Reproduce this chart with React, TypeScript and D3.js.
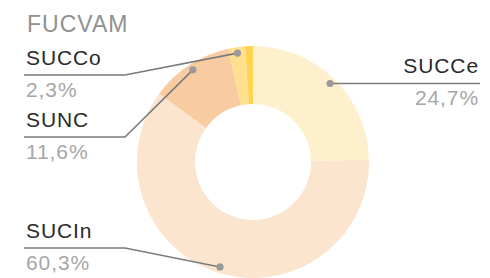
import { useEffect, useRef } from "react";
import * as d3 from "d3";

// slices in clockwise order starting at 12 o'clock
const categories = ["SUCCe", "SUCIn", "SUNC", "SUCCo", "Otros"];
const values = [24.7, 60.3, 11.6, 2.3, 1.1];
const colors = ["#fff0cd", "#fbe5cf", "#f8cba1", "#ffe08e", "#ffd451"];
const showLabel = [true, true, true, true, false];
const title = "FUCVAM";

// label lane (y of the underline) per slice; right side follows the dot
const labelLineY: Record<string, number> = { SUCCo: 75, SUNC: 137, SUCIn: 248 };

export default function App() {
  const svgRef = useRef<SVGSVGElement | null>(null);

  useEffect(() => {
    const W = 490, H = 278;
    const cx = 253, cy = 162;
    const R = 116, r = 58, dotR = 110;
    const font = "'Liberation Sans', Arial, sans-serif";
    const fmt = (v: number) => d3.format(".1f")(v).replace(".", ",") + "%";

    const svg = d3.select(svgRef.current).attr("width", W).attr("height", H);
    svg.selectAll("*").remove();

    svg.append("text")
      .attr("x", 27).attr("y", 32)
      .attr("font-family", font).attr("font-size", 23).attr("letter-spacing", 1)
      .attr("fill", "#909090")
      .text(title);

    const data = categories.map((c, i) => ({ name: c, value: values[i], color: colors[i], label: showLabel[i] }));
    const pie = d3.pie<any>().value(d => d.value).sort(null);
    const arcs = pie(data);
    const arc = d3.arc<any>().innerRadius(r).outerRadius(R);

    const g = svg.append("g").attr("transform", `translate(${cx},${cy})`);
    g.selectAll("path").data(arcs).enter().append("path")
      .attr("d", arc).attr("fill", d => d.data.color);

    const labels = svg.append("g");
    arcs.forEach(a => {
      if (!a.data.label) return;
      const mid = (a.startAngle + a.endAngle) / 2;
      const px = cx + dotR * Math.sin(mid);
      const py = cy - dotR * Math.cos(mid);
      const right = mid < Math.PI;
      let pts: [number, number][];
      let ly: number;
      if (right) {
        ly = py;
        pts = [[px, py], [480, py]];
      } else {
        ly = labelLineY[a.data.name];
        pts = [[px, py], [125, ly], [24, ly]];
      }
      labels.append("path")
        .attr("d", d3.line()(pts))
        .attr("fill", "none").attr("stroke", "#7b7b7b").attr("stroke-width", 1.6);
      labels.append("circle").attr("cx", px).attr("cy", py).attr("r", 3.6).attr("fill", "#9a9a9a");

      const tx = right ? 479 : 26;
      const anchor = right ? "end" : "start";
      labels.append("text")
        .attr("x", tx).attr("y", ly - 10)
        .attr("text-anchor", anchor)
        .attr("font-family", font).attr("font-size", 21).attr("letter-spacing", 0.9)
        .attr("fill", "#2a2a2a")
        .text(a.data.name);
      labels.append("text")
        .attr("x", tx).attr("y", ly + 22)
        .attr("text-anchor", anchor)
        .attr("font-family", font).attr("font-size", 21).attr("letter-spacing", 0.9)
        .attr("fill", "#a6a6a6")
        .text(fmt(a.data.value));
    });
  }, []);

  return (
    <svg ref={svgRef} style={{ position: "absolute", left: 0, top: 0, background: "#fff" }} />
  );
}
